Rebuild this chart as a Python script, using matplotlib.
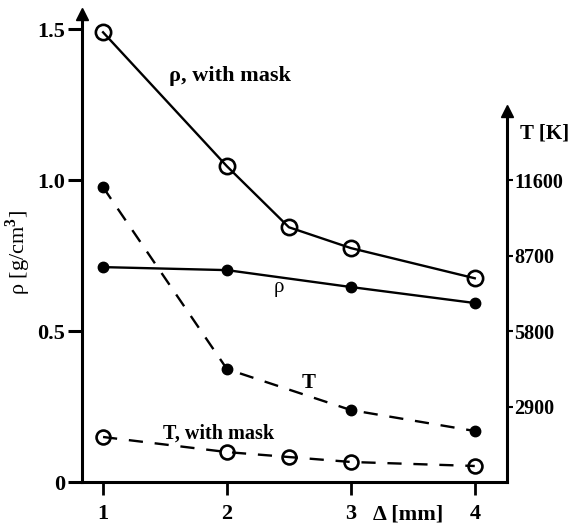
import matplotlib.pyplot as plt
from matplotlib import rcParams

rcParams.update({
    "font.family": "Liberation Serif", "font.weight": "bold", "font.size": 16,
    "mathtext.fontset": "custom", "mathtext.rm": "Liberation Serif",
    "mathtext.bf": "Liberation Serif:bold",
})

# spacing Delta [mm]
delta_mask = [1, 2, 2.5, 3, 4]
delta = [1, 2, 3, 4]
# density [g/cm^3]
rho_mask = [1.49, 1.046, 0.844, 0.775, 0.675]
rho = [0.712, 0.702, 0.646, 0.593]
# temperature [K]
temp = [11330, 4340, 2765, 1960]
temp_mask = [1730, 1150, 960, 770, 615]

rho_ticks = [0, 0.5, 1.0, 1.5]
rho_ticklabels = ["0", "0.5", "1.0", "1.5"]
t_ticks = [2900, 5800, 8700, 11600]

RHO_TOP = 1.55
T_PER_RHO = 11600

fig = plt.figure(figsize=(5.73, 5.25), dpi=100)
ax = fig.add_axes([0.1431, 0.0819, 0.7417, 0.8911])
ax2 = ax.twinx()

ax.plot(delta_mask, rho_mask, "-o", color="black", lw=1.7, ms=11,
        mfc="none", mew=1.9, clip_on=False)
ax.plot(delta, rho, "-o", color="black", lw=1.7, ms=7.5, clip_on=False)
ax2.plot(delta, temp, "o", color="black", ls=(0, (6, 5)), lw=1.7, ms=7.5,
         clip_on=False)
ax2.plot(delta_mask, temp_mask, "o", color="black", ls=(0, (6, 5)), lw=1.7,
         ms=10, mfc="none", mew=1.9, clip_on=False)

ax.set_xlim(0.83, 4.26)
ax.set_ylim(0, RHO_TOP)
ax2.set_ylim(0, RHO_TOP * T_PER_RHO)

for a in (ax, ax2):
    a.spines["top"].set_visible(False)
    for s in a.spines.values():
        s.set_linewidth(2.2)
ax.spines["right"].set_visible(False)
ax2.spines["left"].set_visible(False)
ax2.spines["bottom"].set_visible(False)
ax2.spines["right"].set_bounds(0, 1.23 * T_PER_RHO)

ax.set_yticks(rho_ticks)
ax.set_yticklabels(rho_ticklabels)
ax.tick_params(axis="y", direction="out", length=10, width=2.2, pad=2)
ax.set_xticks(delta)
ax.tick_params(axis="x", direction="out", length=9, width=2, pad=7)
ax2.set_yticks(t_ticks)
ax2.tick_params(axis="y", direction="out", length=4, width=1.5, pad=1,
                labelsize=14.5)

# arrow heads on the axes
ax.plot(0, 1, "^k", ms=9, transform=ax.transAxes, clip_on=False)
ax2.plot(1, 1.23 / RHO_TOP, "^k", ms=9, transform=ax2.transAxes, clip_on=False)

ax.set_ylabel(r"ρ [g/cm$^3$]", fontweight="normal", fontsize=16)
ax.yaxis.set_label_coords(-0.115, 0.49)
ax.text(3.46, -0.075, "Δ [mm]", ha="center", va="top", fontsize=16,
        transform=ax.transData)
ax2.text(1.03, 1.155 / RHO_TOP, "T [K]", ha="left", va="center",
         fontsize=15, transform=ax2.transAxes)

ax.text(1.53, 1.33, "ρ, with mask", fontsize=16)
ax.text(2.38, 0.63, "ρ", fontsize=15, fontweight="normal")
ax.text(2.6, 0.31, "T", fontsize=15)
ax.text(1.48, 0.145, "T, with mask", fontsize=14.5)

fig.savefig("out.png", dpi=100)
